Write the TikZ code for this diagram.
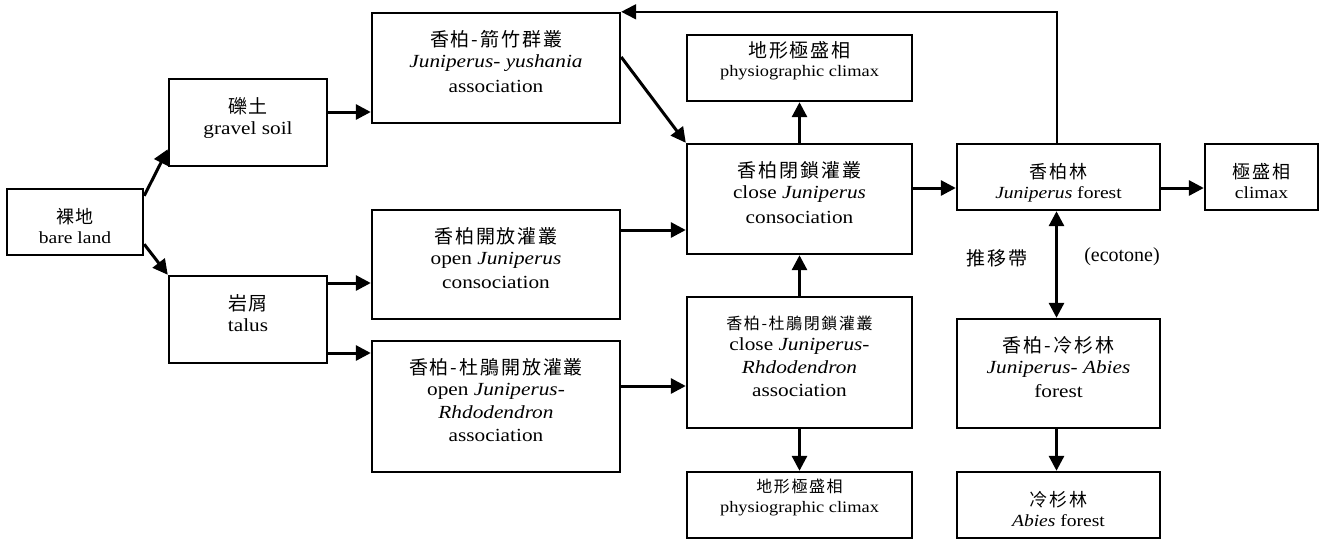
\documentclass[tikz,border=0pt]{standalone}
\usepackage{fontspec}
\setmainfont[FakeStretch=1.15]{Liberation Serif}
\newfontfamily\timesfont{Liberation Serif}
\newfontfamily\cjkfont[LetterSpace=10]{Noto Sans CJK TC}
\usetikzlibrary{arrows.meta}
\newcommand\Zh[2][19]{{\cjkfont\fontsize{#1}{24}\selectfont #2}}
\begin{document}
\begin{tikzpicture}[x=1pt,y=-1pt,
  box/.style={draw, line width=2.4pt, align=center, inner sep=0pt, text depth=13pt, font=\fontsize{18.5}{24.5}\selectfont},
  sbox/.style={box, text depth=0pt, text height=43pt, font=\fontsize{17}{20.5}\selectfont},
  pbox/.style={box, text depth=18pt, font=\fontsize{16}{19.5}\selectfont},
  tip/.tip={Triangle[length=15pt,width=15pt]},
  arr/.style={line width=3pt, -tip},
  darr/.style={line width=3pt, tip-tip},
  tarr/.style={line width=2pt, -tip},
  lbl/.style={font=\timesfont\fontsize{20}{24}\selectfont}]
\useasboundingbox (0,0) rectangle (1320,542);

\node[sbox, minimum width=136pt, minimum height=66pt] (bare) at (75,222) {\Zh[18]{裸地}\\bare land};
\node[box, minimum width=158pt, minimum height=87pt] (gravel) at (248,122.5) {\Zh{礫土}\\[-3.5pt]gravel soil};
\node[box, minimum width=158pt, minimum height=87pt] (talus) at (248,319.5) {\Zh{岩屑}\\[-3.5pt]talus};
\node[box, minimum width=248pt, minimum height=110pt] (yush) at (496,68) {\Zh{香柏-箭竹群叢}\\[-3.5pt]\textit{Juniperus- yushania}\\association};
\node[box, minimum width=248pt, minimum height=109pt] (openJ) at (496,264.5) {\Zh{香柏開放灌叢}\\[-3.5pt]open \textit{Juniperus}\\consociation};
\node[box, minimum width=248pt, minimum height=131pt, font=\fontsize{18.5}{23}\selectfont] (openJR) at (496,406.5) {\Zh{香柏-杜鵑開放灌叢}\\[-1.5pt]open \textit{Juniperus-}\\\textit{Rhdodendron}\\association};
\node[pbox, minimum width=225pt, minimum height=66pt] (physTop) at (799.5,68) {\Zh{地形極盛相}\\physiographic climax};
\node[box, minimum width=225pt, minimum height=110pt] (closeJ) at (799.5,199) {\Zh{香柏閉鎖灌叢}\\[-3.5pt]close \textit{Juniperus}\\consociation};
\node[box, minimum width=225pt, minimum height=131pt, font=\fontsize{18.5}{23}\selectfont] (closeJR) at (799.5,362.5) {\Zh[16]{香柏-杜鵑閉鎖灌叢}\\[-1.5pt]close \textit{Juniperus-}\\\textit{Rhdodendron}\\association};
\node[pbox, minimum width=225pt, minimum height=66pt] (physBot) at (799.5,505) {\Zh[16]{地形極盛相}\\physiographic climax};
\node[sbox, minimum width=203pt, minimum height=66pt] (Jforest) at (1058.5,177) {\Zh[18]{香柏林}\\\textit{Juniperus} forest};
\node[sbox, minimum width=113pt, minimum height=66pt] (climax) at (1261.5,177) {\Zh[18]{極盛相}\\climax};
\node[box, minimum width=203pt, minimum height=109pt] (JAbies) at (1058.5,373.5) {\Zh{香柏-冷杉林}\\[-3.5pt]\textit{Juniperus- Abies}\\forest};
\node[sbox, minimum width=203pt, minimum height=66pt] (Abies) at (1058.5,505) {\Zh[18]{冷杉林}\\\textit{Abies} forest};

\node (lzh) at (997,258) {\Zh{推移帶}};
\node[lbl] (leco) at (1122,257) {(ecotone)};

\draw[arr] ([yshift=-8pt]bare.north east) -- ([yshift=18pt]gravel.south west);
\draw[arr] ([yshift=12pt]bare.south east) -- (talus.north west);
\draw[arr] ([yshift=10.5pt]gravel.east) -- ([yshift=-44pt]yush.west);
\draw[arr] ([yshift=11pt]yush.east) -- (closeJ.north west);
\draw[arr] ([yshift=34.5pt]openJ.east) -- ([yshift=-31pt]closeJ.west);
\draw[arr] ([yshift=36.5pt]talus.east) -- ([yshift=-18.5pt]openJ.west);
\draw[arr] ([yshift=-33.5pt]talus.east) -- ([yshift=53.5pt]openJR.west);
\draw[arr] ([yshift=20.5pt]openJR.east) -- ([yshift=-23.5pt]closeJR.west);
\draw[arr] (closeJ.north) -- (physTop.south);
\draw[arr] (closeJR.north) -- (closeJ.south);
\draw[arr] (closeJR.south) -- (physBot.north);
\draw[arr] ([yshift=11pt]closeJ.east) -- ([yshift=-11pt]Jforest.west);
\draw[arr] ([yshift=-11pt]Jforest.east) -- ([yshift=-11pt]climax.west);
\draw[tarr] ([xshift=-2pt]Jforest.north) |- (yush.north east);
\draw[darr] ([xshift=-2pt]Jforest.south) -- ([xshift=-2pt]JAbies.north);
\draw[arr] ([xshift=-2pt]JAbies.south) -- ([xshift=-2pt]Abies.north);
\end{tikzpicture}
\end{document}
